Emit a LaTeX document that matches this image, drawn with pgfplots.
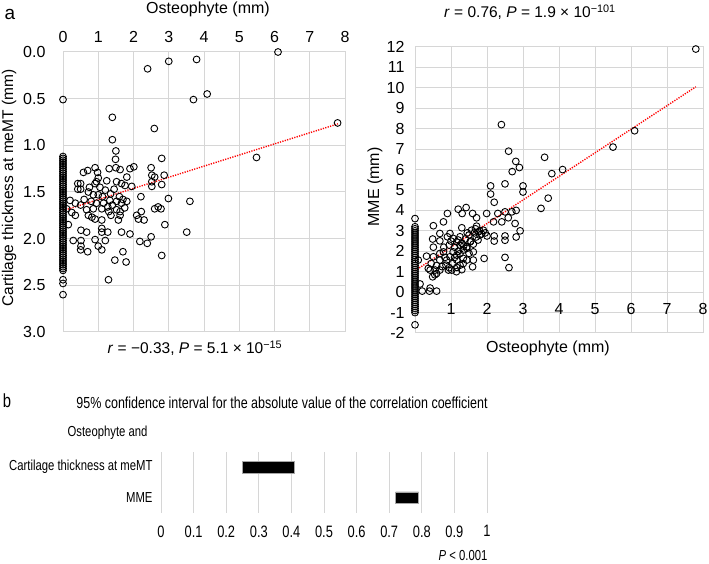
\documentclass[border=0pt]{standalone}
\usepackage{fontspec}
\setmainfont{Liberation Sans}
\newfontfamily\condensed[FakeStretch=0.78]{Liberation Sans}
\usepackage{pgfplots}
\pgfplotsset{compat=1.18}

\pgfplotsset{
  panel/.style={scale only axis, anchor=center, clip=false,
    grid=major, grid style={black!16, line width=1pt},
    axis line style={black!16, line width=1pt}, major tick length=0pt,
    tick label style={font=\fontsize{16}{19}\selectfont},
    /pgf/number format/assume math mode=true},
  scat/.style={only marks, mark=o, mark size=3.4pt, black, mark options={line width=0.9pt}},
  fitline/.style={red, line width=1.4pt, dash pattern=on 1.2pt off 1.3pt},
}

\begin{document}
\begin{tikzpicture}
\useasboundingbox (0pt,0pt) rectangle (709pt,564pt);

% ---- a, left: osteophyte vs cartilage thickness
\begin{axis}[panel, at={(204pt,372pt)}, width=282pt, height=280pt,
  xmin=0, xmax=8, ymin=0, ymax=3, y dir=reverse,
  xtick={0,...,8}, ytick={0,0.5,1,1.5,2,2.5,3},
  xticklabel pos=upper, xticklabel style={yshift=6pt},
  yticklabel style={xshift=-14pt, /pgf/number format/.cd, fixed, fixed zerofill, precision=1}]
\addplot[scat] coordinates {
(0,1.12) (0,1.14) (0,1.16) (0,1.18) (0,1.20) (0,1.22) (0,1.24) (0,1.26) (0,1.28) (0,1.30)
(0,1.32) (0,1.34) (0,1.36) (0,1.38) (0,1.40) (0,1.42) (0,1.44) (0,1.46) (0,1.48) (0,1.50)
(0,1.52) (0,1.54) (0,1.56) (0,1.58) (0,1.60) (0,1.62) (0,1.64) (0,1.66) (0,1.68) (0,1.70)
(0,1.72) (0,1.74) (0,1.76) (0,1.78) (0,1.80) (0,1.82) (0,1.84) (0,1.86) (0,1.88) (0,1.90)
(0,1.92) (0,1.94) (0,1.96) (0,1.98) (0,2.00) (0,2.02) (0,2.04) (0,2.06) (0,2.08) (0,2.10)
(0,2.12) (0,2.14) (0,2.16) (0,2.18) (0,2.20) (0,2.22) (0,2.24) (0,2.26) (0,2.28) (0,2.30)
(0,2.32) (0,2.34) (0,2.44) (0,2.48) (0,2.60) (0,0.51)
(2.40,0.18) (3.00,0.10) (3.79,0.08) (6.10,0.00) (3.70,0.51) (4.09,0.45) (1.40,0.70)
(2.59,0.82) (1.40,0.94) (7.79,0.76) (1.50,1.06) (5.49,1.13) (2.80,1.14) (1.49,1.15)
(1.31,1.25) (0.91,1.24) (0.70,1.27) (0.58,1.29) (0.98,1.29) (1.00,1.35) (1.50,1.24)
(1.62,1.26) (1.90,1.25) (2.01,1.23) (2.50,1.24) (2.52,1.32) (2.60,1.34) (2.87,1.32)
(1.81,1.34) (1.66,1.41) (1.52,1.39) (0.95,1.39) (0.91,1.41) (1.24,1.38) (0.42,1.41)
(0.42,1.47) (0.50,1.41) (0.50,1.47) (0.72,1.50) (1.76,1.43) (1.95,1.44) (2.52,1.39)
(2.52,1.44) (2.80,1.42) (2.99,1.57) (3.60,1.60) (2.21,1.55) (0.86,1.53) (1.00,1.53)
(1.12,1.55) (1.33,1.59) (1.52,1.60) (1.66,1.62) (1.81,1.60) (0.20,1.59) (0.35,1.62)
(0.50,1.64) (0.67,1.69) (0.86,1.68) (1.10,1.68) (1.27,1.66) (1.52,1.69) (1.62,1.71)
(2.09,1.75) (2.22,1.71) (2.60,1.68) (2.70,1.66) (2.78,1.68) (2.89,1.85) (0.35,1.75)
(0.72,1.75) (0.82,1.77) (0.91,1.79) (1.10,1.80) (1.36,1.75) (1.62,1.75) (1.57,1.80)
(2.14,1.79) (2.30,1.80) (0.51,1.91) (0.67,1.93) (1.10,1.89) (1.10,1.93) (1.27,1.93)
(1.66,1.93) (1.90,1.95) (0.29,2.02) (0.51,2.02) (0.51,2.08) (0.50,2.12) (0.70,2.14)
(0.91,2.01) (1.00,2.08) (1.10,2.12) (1.20,2.02) (1.70,2.14) (2.18,2.03) (2.39,2.05)
(2.50,1.98) (2.80,2.18) (3.51,1.93) (1.47,2.23) (1.79,2.25) (1.29,2.44)
(1.05,1.45) (1.20,1.48) (1.35,1.52) (1.45,1.47) (1.60,1.55) (1.70,1.58) (1.15,1.62)
(1.40,1.64) (0.80,1.60) (0.95,1.62) (1.30,1.71) (1.75,1.67) (0.60,1.58) (0.75,1.45)
(0.10,1.68) (0.25,1.72) (0.15,1.85)
};
\addplot[fitline] coordinates {(0,1.70) (7.8,0.77)};
\end{axis}

% ---- a, right: osteophyte vs MME
\begin{axis}[panel, at={(559pt,374pt)}, width=288pt, height=286pt,
  xmin=0, xmax=8, ymin=-2, ymax=12,
  xtick={1,...,8}, ytick={-2,...,12},
  xticklabel style={anchor=center, yshift=24pt},
  yticklabel style={xshift=-7pt}]
\addplot[scat] coordinates {
(0,-1.0) (0,-0.9) (0,-0.8) (0,-0.7) (0,-0.6) (0,-0.5) (0,-0.4) (0,-0.3) (0,-0.2) (0,-0.1)
(0,0.0) (0,0.1) (0,0.2) (0,0.3) (0,0.4) (0,0.5) (0,0.6) (0,0.7) (0,0.8) (0,0.9)
(0,1.0) (0,1.1) (0,1.2) (0,1.3) (0,1.4) (0,1.5) (0,1.6) (0,1.7) (0,1.8) (0,1.9)
(0,2.0) (0,2.1) (0,2.2) (0,2.3) (0,2.4) (0,2.5) (0,2.6) (0,2.7) (0,2.8) (0,2.9)
(0,3.0) (0,3.1) (0,3.2) (0,3.6) (0,-1.6)
(7.8,11.9) (2.4,8.2) (6.1,7.9) (5.5,7.1) (2.6,6.9) (3.6,6.6) (2.8,6.4) (2.9,6.1)
(2.7,5.9) (4.1,6.0) (3.8,5.8) (2.1,5.2) (2.5,5.3) (3.0,5.2) (2.1,4.8) (3.0,4.9)
(3.7,4.6) (2.2,4.4) (3.5,4.1) (1.2,4.06) (1.42,4.14) (1.31,3.85) (1.6,3.85) (0.9,3.85)
(1.71,3.64) (1.99,3.85) (2.3,3.85) (2.5,3.93) (2.69,3.93) (2.81,4.0) (2.59,3.64)
(2.18,3.44) (2.41,3.44) (2.78,3.36) (2.92,3.0) (0.79,3.44) (0.51,3.25) (1.30,3.15)
(1.57,3.03) (1.71,3.23) (1.76,2.95) (1.90,3.03) (1.80,2.79) (2.0,2.75) (2.2,2.5)
(2.5,2.75) (2.5,2.54) (2.81,2.7) (0.49,2.6) (0.69,2.87) (0.51,2.2) (0.69,2.51)
(0.9,2.71) (0.97,2.87) (1.06,2.63) (1.16,2.46) (1.25,2.71) (1.25,2.30) (1.44,2.22)
(1.53,2.46) (1.62,1.97) (1.92,1.65) (1.6,1.24) (2.5,1.7) (2.61,1.2) (0.09,1.57)
(0.14,0.4) (0.2,0.05) (0.42,0.2) (0.40,0.05) (0.60,0.05) (0.32,1.76) (0.51,1.73)
(0.49,0.75) (0.37,1.16) (0.42,1.08) (0.56,1.08) (0.69,1.08) (0.60,0.91) (0.86,1.32)
(0.93,1.08) (1.02,1.08) (1.16,1.21) (1.25,1.32) (1.34,1.40) (0.88,1.57) (0.97,1.73)
(1.06,1.97) (1.16,1.81) (1.25,1.89) (1.34,2.06) (1.44,2.14) (1.34,1.65) (1.16,1.57)
(0.79,1.97) (0.69,1.89) (0.95,2.30) (0.69,1.57) (0.83,1.70) (1.44,1.57) (1.62,1.57)
(1.1,2.2) (1.2,2.0) (1.3,2.4) (1.4,2.6) (1.5,2.8) (1.55,2.5) (1.65,2.9) (1.7,2.7)
(1.75,2.55) (1.85,2.85) (1.0,2.5) (1.05,1.4) (1.15,1.0) (0.95,1.2) (1.3,1.1) (1.5,1.9)
(1.35,2.25) (1.62,2.35) (1.8,3.0) (1.45,2.9) (1.1,1.7) (1.2,2.55) (0.8,2.2) (0.6,1.3)
(0.75,1.25) (0.55,0.85) (0.45,1.4) (2.2,2.75) (1.95,2.9) (1.68,3.1)
};
\addplot[fitline] coordinates {(0,1.05) (7.8,10.05)};
\end{axis}

% ---- b: confidence intervals
\begin{axis}[scale only axis, anchor=center, at={(324pt,81.5pt)}, width=326pt, height=61pt,
  xbar stacked, bar width=11.5pt,
  xmin=0, xmax=1, ymin=0, ymax=2,
  xtick={0,0.1,0.2,0.3,0.4,0.5,0.6,0.7,0.8,0.9,1},
  ytick={0.5,1.5}, yticklabels={MME, Cartilage thickness at meMT},
  xmajorgrids, grid style={black!16, line width=1pt},
  axis line style={draw=none}, major tick length=0pt,
  /pgf/number format/assume math mode=true,
  xticklabel style={font=\condensed\fontsize{16.5}{19}\selectfont, yshift=-9pt},
  yticklabel style={font=\condensed\fontsize{14.5}{17}\selectfont, xshift=-5pt}]
\addplot[draw=none, fill=none] coordinates {(0.25,1.5) (0.72,0.5)};
\addplot[fill=black, draw=gray!70, line width=0.6pt] coordinates {(0.16,1.5) (0.07,0.5)};
\end{axis}

% ---- text
\node[font=\fontsize{19}{22}\selectfont] at (10pt,550pt) {a};
\node[font=\fontsize{16}{19}\selectfont] at (208pt,555pt) {Osteophyte (mm)};
\node[font=\fontsize{15.5}{18}\selectfont, rotate=90] at (9pt,376pt) {Cartilage thickness at meMT (mm)};
\node[font=\fontsize{15.5}{18}\selectfont] at (195pt,216pt) {\textit{r} = −0.33, \textit{P} = 5.1 × 10\textsuperscript{−15}};
\node[font=\fontsize{15.5}{18}\selectfont] at (530pt,552pt) {\textit{r} = 0.76, \textit{P} = 1.9 × 10\textsuperscript{−101}};
\node[font=\fontsize{16}{19}\selectfont, rotate=90] at (375pt,377pt) {MME (mm)};
\node[font=\fontsize{16}{19}\selectfont] at (548pt,216pt) {Osteophyte (mm)};
\node[font=\condensed\fontsize{19}{22}\selectfont] at (7pt,163pt) {b};
\node[font=\condensed\fontsize{16}{19}\selectfont] at (282pt,161pt) {95\% confidence interval for the absolute value of the correlation coefficient};
\node[font=\condensed\fontsize{14.5}{17}\selectfont, anchor=east] at (151pt,131pt) {Osteophyte and};
\node[font=\condensed\fontsize{14.5}{17}\selectfont, anchor=east] at (491pt,8pt) {\textit{P} < 0.001};
\end{tikzpicture}
\end{document}
